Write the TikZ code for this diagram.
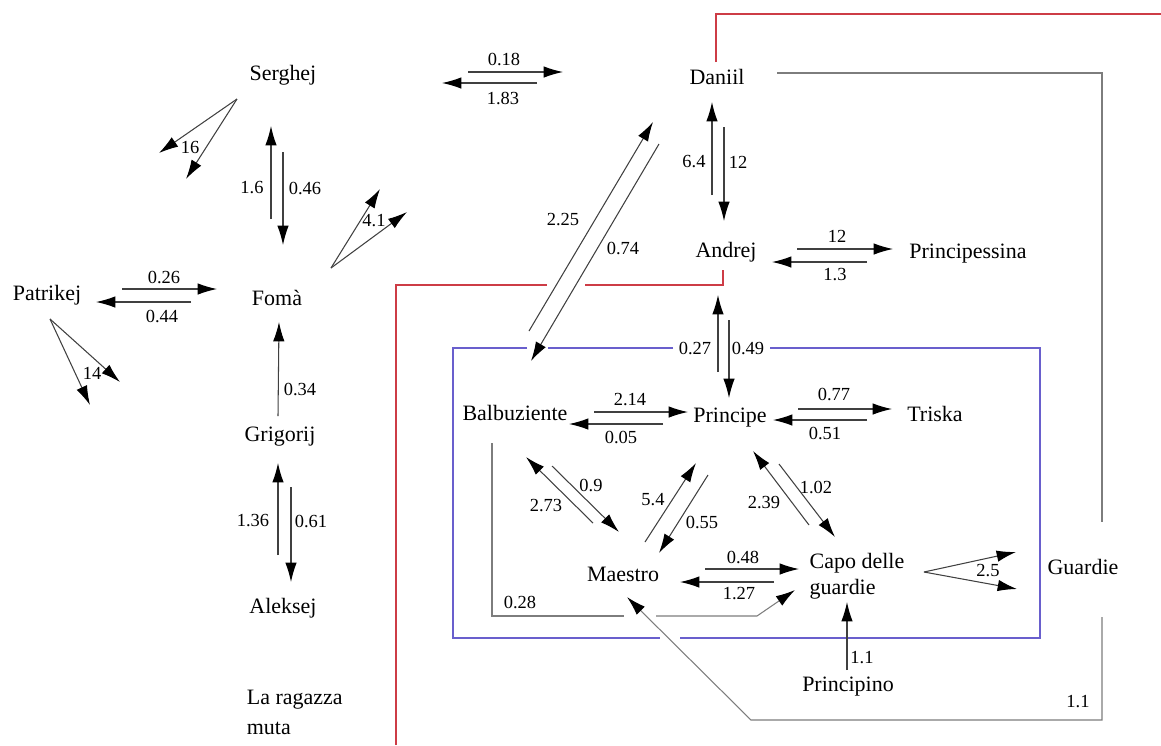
\documentclass[tikz,border=0pt]{standalone}
\usepackage{fontspec}
\setmainfont{Liberation Serif}
\usetikzlibrary{arrows.meta}
\usetikzlibrary{calc}
\definecolor{rosso}{RGB}{205,60,70}
\definecolor{blu}{RGB}{105,95,205}
\definecolor{grigio}{RGB}{125,125,125}

\begin{document}
\begin{tikzpicture}[x=0.02cm, y=-0.02cm, every node/.style={inner sep=2pt},
    pers/.style={font=\fontsize{12.5}{15}\selectfont},
    val/.style={font=\fontsize{10.5}{12}\selectfont, inner sep=1pt},
    arr/.style={draw=black!75, line width=0.6pt, -{Latex[length=11pt,width=6.5pt,color=black]}},
    garr/.style={draw=grigio, line width=0.6pt, -{Latex[length=11pt,width=6.5pt,color=black]}},
    linearossa/.style={draw=rosso, line width=0.8pt},
    lineablu/.style={draw=blu, line width=0.8pt},
    lineagrigia/.style={draw=grigio, line width=0.6pt}]
    \useasboundingbox (0,0) rectangle (1161,745);
    \node[pers](serghej) at (283,75) {Serghej};
    \node[pers](patrikej) at (47,295) {Patrikej};
    \node[pers](foma) at (277,298) {Fomà};
    \node[pers](grigorij) at (280,437) {Grigorij};
    \node[pers](aleksej) at (283,608) {Aleksej};
    \node[pers, align=left, anchor=west](ragazza) at (243,712) {La ragazza\\[2pt]muta};
    \node[pers](daniil) at (717,77) {Daniil};
    \node[pers](andrej) at (726,252) {Andrej};
    \node[pers](principessina) at (968,254) {Principessina};
    \node[pers](balbuziente) at (515,413) {Balbuziente};
    \node[pers](principe) at (730,418) {Principe};
    \node[pers](triska) at (935,414) {Triska};
    \node[pers](maestro) at (623,574) {Maestro};
    \node[pers, align=left](capo) at (857,576) {Capo delle\\guardie};
    \node[pers](guardie) at (1083,567) {Guardie};
    \node[pers](principino) at (848,687) {Principino};
%     % cornici
    \draw[linearossa] ($(daniil)+(-1,-15)$) |- (1161.5,14) -- (1161.5,745);
    \draw[linearossa] (396,745) |- (547,285);
    \draw[linearossa] (585,285) -| ($(andrej)+(-3,18)$);
    \draw[lineablu] (673,348) -- (548,348);
    \draw[lineablu] (527,348) -| (453,638) -- (660,638);
    \draw[lineablu] (680,638) -| (1040,348) -- (770,348);
    \draw[lineagrigia] ($(daniil)+(60,-4)$) -| ($(guardie)+(19,-45)$);
    \draw[lineagrigia] ($(balbuziente)+(-23,30)$) |- (624,616);
    \draw[garr] (656,616) -- ($(capo)+(-100,40)$) -- ($(capo)+(-62,14)$);
    \node[val](v028) at (520,602) {0.28};
    \draw[garr] ($(guardie)+(19,50)$) |- ($(principino)+(-97,33)$) -- ($(maestro)+(4,23)$);
    \node[val](v11b) at (1078,702) {1.1};
%     % sinistra
    \draw[arr] ($(serghej)+(-46,24)$) -- ($(serghej)+(-124,78)$);
    \draw[arr] ($(serghej)+(-46,24)$) -- ($(serghej)+(-97,104)$);
    \node[val](v16) at (190,147) {16};
    \draw[arr] ($(foma)+(-6,-79)$) -- ($(serghej)+(-12,51)$);
    \draw[arr] ($(serghej)+(0,77)$) -- ($(foma)+(6,-53)$);
    \node[val](v1p6) at (252,188) {1.6};
    \node[val](v046) at (305,188) {0.46};
    \draw[arr] ($(foma)+(54,-30)$) -- ($(foma)+(103,-109)$);
    \draw[arr] ($(foma)+(54,-30)$) -- ($(foma)+(130,-86)$);
    \node[val](v41) at (374,221) {4.1};
    \draw[arr] ($(patrikej)+(75,-6)$) -- ($(foma)+(-60,-9)$);
    \draw[arr] ($(foma)+(-86,4)$) -- ($(patrikej)+(49,7)$);
    \node[val](v026) at (164,277) {0.26};
    \node[val](v044) at (162,316) {0.44};
    \draw[arr] ($(patrikej)+(3,24)$) -- ($(patrikej)+(43,110)$);
    \draw[arr] ($(patrikej)+(3,24)$) -- ($(patrikej)+(73,87)$);
    \node[val](v14) at (92,373) {14};
    \draw[arr] ($(grigorij)+(-2,-21)$) -- ($(foma)+(2,24)$);
    \node[val](v034) at (300,389) {0.34};
    \draw[arr] ($(aleksej)+(-5,-53)$) -- ($(grigorij)+(-2,26)$);
    \draw[arr] ($(grigorij)+(11,50)$) -- ($(aleksej)+(8,-26)$);
    \node[val](v136) at (253,521) {1.36};
    \node[val](v061) at (311,521) {0.61};
%     % alto
    \draw[arr] ($(serghej)+(185,-3)$) -- ($(daniil)+(-154,-5)$);
    \draw[arr] ($(daniil)+(-180,6)$) -- ($(serghej)+(159,8)$);
    \node[val](v018) at (504,59) {0.18};
    \node[val](v183) at (503,98) {1.83};
    \draw[arr] ($(andrej)+(-14,-57)$) -- ($(daniil)+(-5,25)$);
    \draw[arr] ($(daniil)+(7,50)$) -- ($(andrej)+(-2,-31)$);
    \node[val](v64) at (694,162) {6.4};
    \node[val](v12a) at (738,162) {12};
    \draw[arr] ($(balbuziente)+(14,-82)$) -- ($(daniil)+(-64,45)$);
    \draw[arr] ($(daniil)+(-58,67)$) -- ($(balbuziente)+(16,-52)$);
    \node[val](v225) at (563,220) {2.25};
    \node[val](v074) at (623,248) {0.74};
    \draw[arr] ($(andrej)+(71,-3)$) -- ($(principessina)+(-75,-5)$);
    \draw[arr] ($(principessina)+(-101,8)$) -- ($(andrej)+(46,10)$);
    \node[val](v12b) at (837,236) {12};
    \node[val](v13) at (835,275) {1.3};
    \draw[arr] ($(principe)+(-12,-46)$) -- ($(andrej)+(-8,43)$);
    \draw[arr] ($(andrej)+(3,68)$) -- ($(principe)+(-1,-20)$);
    \node[val](v027) at (695,348) {0.27};
    \node[val](v049) at (748,348) {0.49};
%     % riquadro
    \draw[arr] ($(balbuziente)+(79,-1)$) -- ($(principe)+(-42,-6)$);
    \draw[arr] ($(principe)+(-67,6)$) -- ($(balbuziente)+(54,11)$);
    \node[val](v214) at (630,400) {2.14};
    \node[val](v005) at (621,437) {0.05};
    \draw[arr] ($(principe)+(68,-9)$) -- ($(triska)+(-43,-5)$);
    \draw[arr] ($(triska)+(-68,6)$) -- ($(principe)+(43,2)$);
    \node[val](v077) at (834,394) {0.77};
    \node[val](v051) at (825,433) {0.51};
    \draw[arr] ($(maestro)+(-30,-51)$) -- ($(balbuziente)+(11,44)$);
    \draw[arr] ($(balbuziente)+(37,53)$) -- ($(maestro)+(-4,-42)$);
    \node[val](v09) at (591,485) {0.9};
    \node[val](v273) at (546,506) {2.73};
    \draw[arr] ($(maestro)+(22,-32)$) -- ($(principe)+(-34,45)$);
    \draw[arr] ($(principe)+(-22,57)$) -- ($(maestro)+(36,-21)$);
    \node[val](v54) at (653,500) {5.4};
    \node[val](v055) at (702,522) {0.55};
    \draw[arr] ($(capo)+(-48,-51)$) -- ($(principe)+(23,33)$);
    \draw[arr] ($(principe)+(49,46)$) -- ($(capo)+(-22,-39)$);
    \node[val](v102) at (816,487) {1.02};
    \node[val](v239) at (764,503) {2.39};
    \draw[arr] ($(maestro)+(82,-5)$) -- ($(capo)+(-58,-7)$);
    \draw[arr] ($(capo)+(-83,6)$) -- ($(maestro)+(57,8)$);
    \node[val](v048) at (743,557) {0.48};
    \node[val](v127) at (739,594) {1.27};
    \draw[arr] ($(capo)+(67,-4)$) -- ($(guardie)+(-67,-15)$);
    \draw[arr] ($(capo)+(67,-4)$) -- ($(guardie)+(-66,22)$);
    \node[val](v25) at (988,571) {2.5};
    \draw[arr] ($(principino)+(-1,-17)$) -- ($(capo)+(-10,26)$);
    \node[val](v11a) at (862,658) {1.1};
\end{tikzpicture}
\end{document}
